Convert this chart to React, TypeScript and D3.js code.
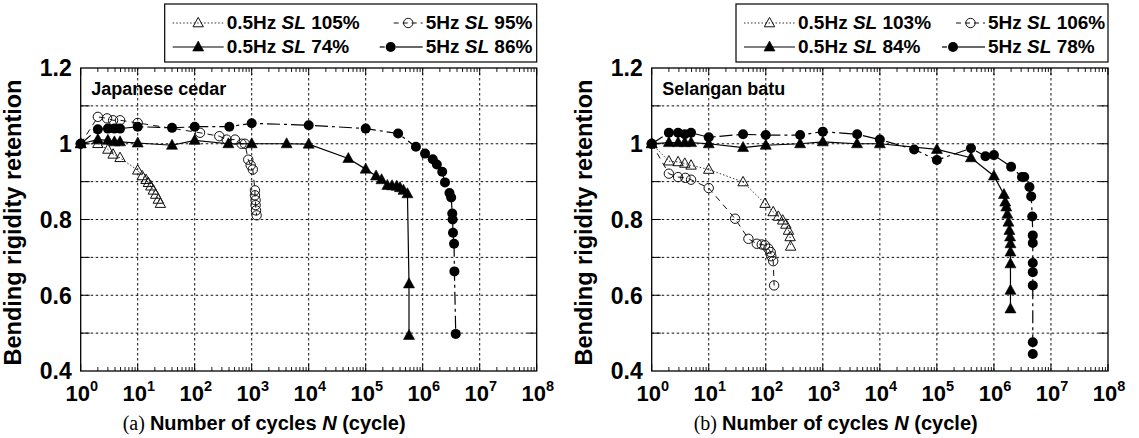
import React from "react";
import * as d3 from "d3";

// ---------- Data: (a) Japanese cedar ----------
const cedarS1N = [1, 2, 3, 3.7, 4.9, 10, 12, 14, 15.4, 17, 18.8, 20.7, 23, 25];
const cedarS1V = [1, 1.0, 0.985, 0.972, 0.963, 0.93, 0.915, 0.905, 0.897, 0.888, 0.877, 0.866, 0.853, 0.842];
const cedarS2N = [1, 2, 2.9, 3.7, 4.9, 10, 124, 270, 364, 510, 665, 760, 870, 960, 1045, 1140, 1140, 1170, 1170, 1190, 1220];
const cedarS2V = [1, 1.071, 1.067, 1.062, 1.062, 1.055, 1.029, 1.02, 1.011, 1.011, 1.0, 1.0, 0.958, 0.943, 0.932, 0.877, 0.864, 0.851, 0.838, 0.824, 0.811];
const cedarS3N = [1, 2, 3, 3.9, 4.9, 10, 40, 100, 390, 1000, 4100, 1e4, 4.96e4, 1e5, 1.52e5, 1.9e5, 2.4e5, 2.9e5, 3.5e5, 4.0e5, 4.6e5, 5.4e5, 5.75e5, 5.75e5];
const cedarS3V = [1, 1.011, 1.009, 1.005, 1.005, 1.002, 0.996, 1.009, 1.0, 1.0, 1.0, 0.999, 0.961, 0.933, 0.915, 0.905, 0.89, 0.889, 0.888, 0.884, 0.877, 0.868, 0.63, 0.494];
const cedarS4N = [1, 2, 3, 3.9, 4.9, 10, 40, 100, 405, 1000, 1e4, 1e5, 3.7e5, 7.6e5, 1.1e6, 1.5e6, 1.77e6, 2.2e6, 2.46e6, 2.95e6, 3.16e6, 3.3e6, 3.35e6, 3.4e6, 3.55e6, 3.6e6, 3.8e6];
const cedarS4V = [1, 1.038, 1.04, 1.04, 1.04, 1.045, 1.042, 1.045, 1.045, 1.054, 1.049, 1.04, 1.027, 0.992, 0.974, 0.959, 0.945, 0.926, 0.898, 0.87, 0.858, 0.816, 0.8, 0.765, 0.736, 0.663, 0.498];
const cedarLabels = ["0.5Hz |SL| 105%", "5Hz |SL| 95%", "0.5Hz |SL| 74%", "5Hz |SL| 86%"];

// ---------- Data: (b) Selangan batu ----------
const batuS1N = [1, 2, 2.9, 3.8, 4.9, 10, 40, 97, 135, 166, 198, 225, 250, 267, 273];
const batuS1V = [1, 0.954, 0.952, 0.948, 0.943, 0.932, 0.899, 0.842, 0.82, 0.808, 0.798, 0.787, 0.771, 0.754, 0.729];
const batuS2N = [1, 2, 2.9, 3.9, 4.9, 10, 29, 49.6, 69.6, 85, 97, 111, 122, 125, 135, 140];
const batuS2V = [1, 0.921, 0.912, 0.91, 0.905, 0.883, 0.802, 0.749, 0.736, 0.734, 0.732, 0.723, 0.714, 0.703, 0.69, 0.626];
const batuS3N = [1, 2, 2.9, 3.8, 4.9, 10, 40, 100, 400, 1000, 3980, 1e4, 1e5, 3.96e5, 1e6, 1.5e6, 1.58e6, 1.65e6, 1.72e6, 1.8e6, 1.87e6, 1.92e6, 1.95e6, 1.95e6, 1.95e6, 1.95e6, 1.95e6];
const batuS3V = [1, 1.003, 1.003, 1.003, 1.003, 1.0, 0.99, 0.996, 1.0, 1.005, 1.0, 1.0, 0.985, 0.963, 0.915, 0.866, 0.846, 0.833, 0.814, 0.793, 0.771, 0.754, 0.736, 0.714, 0.683, 0.613, 0.564];
const batuS4N = [1, 2, 2.9, 3.8, 4.9, 10, 40, 100, 400, 1000, 4000, 1e4, 4e4, 1e5, 3.96e5, 7.1e5, 1e6, 2e6, 3.1e6, 3.4e6, 4.2e6, 4.5e6, 4.7e6, 4.8e6, 4.8e6, 4.8e6, 4.8e6, 4.8e6, 4.8e6, 4.8e6];
const batuS4V = [1, 1.029, 1.029, 1.025, 1.029, 1.017, 1.025, 1.023, 1.023, 1.032, 1.025, 1.011, 0.985, 0.957, 0.988, 0.967, 0.97, 0.939, 0.912, 0.912, 0.886, 0.861, 0.808, 0.758, 0.738, 0.685, 0.661, 0.626, 0.476, 0.445];
const batuLabels = ["0.5Hz |SL| 103%", "5Hz |SL| 106%", "0.5Hz |SL| 84%", "5Hz |SL| 78%"];

const yTickValues = [0.4, 0.6, 0.8, 1.0, 1.2];
const yTickLabels = ["0.4", "0.6", "0.8", "1", "1.2"];
const yGridValues = [0.5, 0.6, 0.7, 0.8, 0.9, 1.0, 1.1];
const xExponents = [0, 1, 2, 3, 4, 5, 6, 7, 8];

const SANS = "'Liberation Sans', Arial, Helvetica, sans-serif";
const SERIF = "'Liberation Serif', 'Times New Roman', serif";

type SeriesStyle = { dash: string; marker: "triOpen" | "circOpen" | "triFill" | "circFill"; width: number; color: string };
const styles: SeriesStyle[] = [
  { dash: "1.5,2", marker: "triOpen", width: 1, color: "#333" },
  { dash: "6,5", marker: "circOpen", width: 1, color: "#111" },
  { dash: "", marker: "triFill", width: 1.2, color: "#000" },
  { dash: "13,4,3,4", marker: "circFill", width: 1.2, color: "#000" },
];

function Marker({ kind, x, y }: { kind: string; x: number; y: number }) {
  if (kind === "triOpen")
    return <path d={`M${x},${y - 5.6}L${x + 5.2},${y + 3.8}L${x - 5.2},${y + 3.8}Z`} fill="none" stroke="#111" strokeWidth={1} />;
  if (kind === "triFill")
    return <path d={`M${x},${y - 6}L${x + 5.5},${y + 4}L${x - 5.5},${y + 4}Z`} fill="#000" stroke="#000" strokeWidth={0.6} />;
  if (kind === "circOpen") return <circle cx={x} cy={y} r={4.7} fill="none" stroke="#111" strokeWidth={1} />;
  return <circle cx={x} cy={y} r={5} fill="#000" />;
}

function LegendLabel({ x, y, label }: { x: number; y: number; label: string }) {
  const parts = label.split("|");
  return (
    <text x={x} y={y} fontFamily={SANS} fontWeight="bold" fontSize={19} fill="#000">
      <tspan>{parts[0]}</tspan>
      <tspan fontStyle="italic">{parts[1]}</tspan>
      <tspan>{parts[2]}</tspan>
    </text>
  );
}

function Panel({
  left, right, series, labels, name, letter, col2Offset,
}: {
  left: number; right: number; series: [number[], number[]][]; labels: string[]; name: string; letter: string; col2Offset: number;
}) {
  const top = 68;
  const bottom = 371;
  const x = d3.scaleLog().domain([1, 1e8]).range([left, right]);
  const y = d3.scaleLinear().domain([0.4, 1.2]).range([bottom, top]);
  const line = d3.line<[number, number]>().x((d) => x(d[0])).y((d) => y(d[1]));

  const minor: number[] = [];
  for (let e = 0; e < 8; e++) for (let k = 2; k <= 9; k++) minor.push(k * Math.pow(10, e));
  const yTicksAll = d3.range(5, 12).map((v) => v / 10);

  // legend
  const bx1 = right;
  const bx0 = right - 372;
  const by0 = 4;
  const by1 = 62;
  const rows = [29, 53];
  const c1Line = [bx0 + 8, bx0 + 59];
  const c1Text = bx0 + 62;
  const c2Text = bx0 + col2Offset;
  const c2Line = [c2Text - 32, c2Text - 3];

  const order = [0, 1, 2, 3];
  return (
    <g>
      {/* grid */}
      {yGridValues.map((v) => (
        <line key={"gy" + v} x1={left} x2={right} y1={y(v)} y2={y(v)} stroke="#111" strokeWidth={1} strokeDasharray="2.5,2.5" />
      ))}
      {xExponents.slice(1, 8).map((e) => (
        <line key={"gx" + e} x1={x(Math.pow(10, e))} x2={x(Math.pow(10, e))} y1={top} y2={bottom} stroke="#111" strokeWidth={1} strokeDasharray="2.5,2.5" />
      ))}
      {/* minor ticks */}
      {minor.map((m) => (
        <g key={"m" + m}>
          <line x1={x(m)} x2={x(m)} y1={bottom} y2={bottom - 4} stroke="#000" strokeWidth={0.9} />
          <line x1={x(m)} x2={x(m)} y1={top} y2={top + 4} stroke="#000" strokeWidth={0.9} />
        </g>
      ))}
      {xExponents.map((e) => (
        <g key={"M" + e}>
          <line x1={x(Math.pow(10, e))} x2={x(Math.pow(10, e))} y1={bottom} y2={bottom - 7} stroke="#000" strokeWidth={1} />
          <line x1={x(Math.pow(10, e))} x2={x(Math.pow(10, e))} y1={top} y2={top + 7} stroke="#000" strokeWidth={1} />
        </g>
      ))}
      {yTicksAll.map((v) => (
        <g key={"yt" + v}>
          <line x1={left} x2={left + 9} y1={y(v)} y2={y(v)} stroke="#000" strokeWidth={1} />
          <line x1={right} x2={right - 9} y1={y(v)} y2={y(v)} stroke="#000" strokeWidth={1} />
        </g>
      ))}
      {/* frame */}
      <rect x={left} y={top} width={right - left} height={bottom - top} fill="none" stroke="#000" strokeWidth={1.3} />

      {/* series lines */}
      {order.map((i) => {
        const pts = series[i][0].map((n, j) => [n, series[i][1][j]] as [number, number]);
        return (
          <path key={"l" + i} d={line(pts) || ""} fill="none" stroke={styles[i].color} strokeWidth={styles[i].width} strokeDasharray={styles[i].dash || undefined} />
        );
      })}
      {order.map((i) =>
        series[i][0].map((n, j) => <Marker key={"p" + i + "_" + j} kind={styles[i].marker} x={x(n)} y={y(series[i][1][j])} />)
      )}

      {/* y tick labels */}
      {yTickValues.map((v, i) => (
        <text key={"yl" + v} x={left - 9} y={y(v)} dy="0.36em" textAnchor="end" fontFamily={SANS} fontWeight="bold" fontSize={23}>
          {yTickLabels[i]}
        </text>
      ))}
      {/* x tick labels */}
      {xExponents.map((e) => (
        <text key={"xl" + e} x={x(Math.pow(10, e)) + 1} y={401} textAnchor="middle" fontFamily={SANS} fontWeight="bold" fontSize={22}>
          <tspan>10</tspan>
          <tspan dy={-10} fontSize={14.5}>{e}</tspan>
        </text>
      ))}
      {/* y title */}
      <text
        transform={`translate(${left - 60},${(top + bottom) / 2 + 3}) rotate(-90)`}
        textAnchor="middle"
        fontFamily={SANS}
        fontWeight="bold"
        fontSize={23.5}
      >
        Bending rigidity retention
      </text>
      {/* x title */}
      <text x={left + 42} y={430} fontFamily={SANS} fontWeight="bold" fontSize={20}>
        <tspan fontFamily={SERIF} fontWeight="normal" fontSize={20}>{`(${letter}) `}</tspan>
        <tspan>Number of cycles </tspan>
        <tspan fontStyle="italic">N</tspan>
        <tspan> (cycle)</tspan>
      </text>
      {/* panel name */}
      <text x={left + 10.5} y={95} fontFamily={SANS} fontWeight="bold" fontSize={18}>
        {name}
      </text>

      {/* legend */}
      <rect x={bx0} y={by0} width={bx1 - bx0} height={by1 - by0} fill="#fff" stroke="#000" strokeWidth={1.2} />
      {[0, 2].map((i, r) => (
        <g key={"lg1" + i}>
          <line x1={c1Line[0]} x2={c1Line[1]} y1={rows[r] - 6} y2={rows[r] - 6} stroke={styles[i].color} strokeWidth={styles[i].width} strokeDasharray={styles[i].dash || undefined} />
          <Marker kind={styles[i].marker} x={(c1Line[0] + c1Line[1]) / 2} y={rows[r] - 6} />
          <LegendLabel x={c1Text} y={rows[r]} label={labels[i]} />
        </g>
      ))}
      {[1, 3].map((i, r) => (
        <g key={"lg2" + i}>
          {i === 1 ? (
            <line x1={c2Line[0]} x2={c2Line[1]} y1={rows[r] - 6} y2={rows[r] - 6} stroke={styles[i].color} strokeWidth={1} strokeDasharray="5,4" />
          ) : (
            <g>
              <line x1={c2Line[0] - 14} x2={c2Line[0] - 9} y1={rows[r] - 6} y2={rows[r] - 6} stroke="#000" strokeWidth={1.2} />
              <line x1={c2Line[0] + 2} x2={c2Line[1]} y1={rows[r] - 6} y2={rows[r] - 6} stroke="#000" strokeWidth={1.2} />
            </g>
          )}
          <Marker kind={styles[i].marker} x={i === 1 ? (c2Line[0] + c2Line[1]) / 2 : c2Line[0] - 3} y={rows[r] - 6} />
          <LegendLabel x={c2Text} y={rows[r]} label={labels[i]} />
        </g>
      ))}
    </g>
  );
}

export default function App() {
  const cedar: [number[], number[]][] = [
    [cedarS1N, cedarS1V],
    [cedarS2N, cedarS2V],
    [cedarS3N, cedarS3V],
    [cedarS4N, cedarS4V],
  ];
  const batu: [number[], number[]][] = [
    [batuS1N, batuS1V],
    [batuS2N, batuS2V],
    [batuS3N, batuS3V],
    [batuS4N, batuS4V],
  ];
  return (
    <svg width={1139} height={438} style={{ position: "absolute", left: 0, top: 0, background: "#fff" }}>
      <rect x={0} y={0} width={1139} height={438} fill="#fff" />
      <Panel left={80.7} right={536.7} series={cedar} labels={cedarLabels} name="Japanese cedar" letter="a" col2Offset={261} />
      <Panel left={651.7} right={1108} series={batu} labels={batuLabels} name="Selangan batu" letter="b" col2Offset={252} />
    </svg>
  );
}
